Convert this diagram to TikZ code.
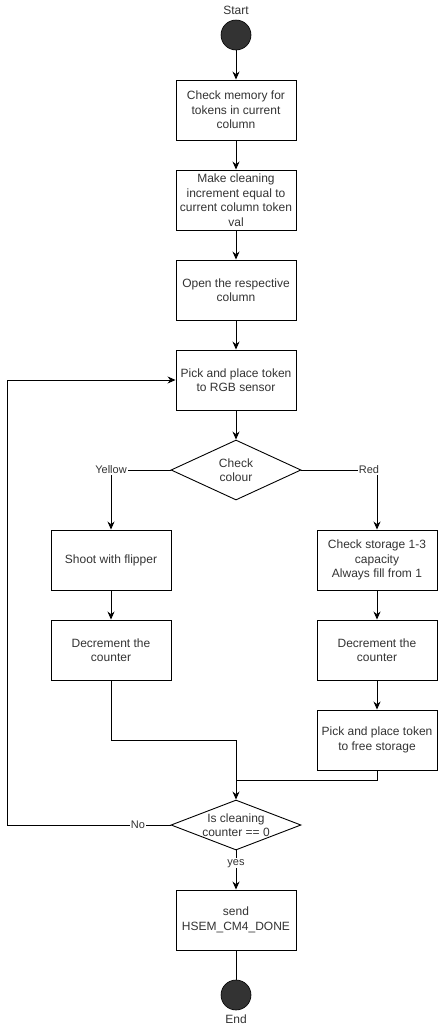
\documentclass[tikz,border=0pt]{standalone}
\usepackage{fontspec}
\setmainfont{Liberation Sans}
\usetikzlibrary{shapes.geometric,arrows.meta}
\definecolor{txt}{HTML}{333333}
\begin{document}
\begin{tikzpicture}[x=1pt,y=-1pt,
  every node/.style={text=txt,font=\fontsize{12}{14.5}\selectfont},
  proc/.style={draw=black,line width=0.9pt,minimum width=120pt,minimum height=60pt,align=center,inner sep=1pt},
  dec/.style={draw=black,line width=0.9pt,diamond,aspect=2.17,minimum width=130pt,minimum height=60pt,align=center,inner sep=0pt},
  term/.style={circle,fill=txt,draw=black,line width=0.6pt,minimum size=30pt,inner sep=0pt},
  lab/.style={fill=white,inner sep=1pt,font=\fontsize{11}{13}\selectfont},
  conn/.style={line width=0.9pt,-{Stealth[length=8pt,width=7pt]}},
  plain/.style={line width=0.9pt}]
\useasboundingbox (0,0) rectangle (438,1031);
\node (st) [term] at (236,35) {};
\node (stl) at (236,10) {Start};
\node (b1) [proc] at (236,110) {Check memory for\\tokens in current\\column};
\node (b2) [proc] at (236,200) {Make cleaning\\increment equal to\\current column token\\val};
\node (b3) [proc] at (236,290) {Open the respective\\column};
\node (b4) [proc] at (236,380) {Pick and place token\\to RGB sensor};
\node (d1) [dec] at (236,470) {Check\\colour};
\node (y1) [proc] at (111,560) {Shoot with flipper};
\node (y2) [proc] at (111,650) {Decrement the\\counter};
\node (r1) [proc] at (377,560) {Check storage 1-3\\capacity\\Always fill from 1};
\node (r2) [proc] at (377,650) {Decrement the\\counter};
\node (r3) [proc] at (377,740) {Pick and place token\\to free storage};
\node (d2) [dec,minimum height=50pt,aspect=2.6] at (236,825) {Is cleaning\\counter == 0};
\node (b5) [proc] at (236,920) {send\\HSEM\_CM4\_DONE};
\node (en) [term] at (236,995) {};
\node (enl) at (236,1019) {End};
\coordinate (jl) at (236,740);
\coordinate (jr) at (236,780);
\coordinate (lp) at (7,825);
\draw[conn] (st) -- (b1);
\draw[conn] (b1) -- (b2);
\draw[conn] (b2) -- (b3);
\draw[conn] (b3) -- (b4);
\draw[conn] (b4) -- (d1);
\draw[conn] (d1.west) -| node[lab,pos=0.5] {Yellow} (y1.north);
\draw[conn] (d1.east) -| node[lab,pos=0.447] {Red} (r1.north);
\draw[conn] (y1) -- (y2);
\draw[conn] (r1) -- (r2);
\draw[conn] (r2) -- (r3);
\draw[plain] (y2.south) |- (jl);
\draw[plain] (r3.south) |- (jr);
\draw[conn] (jl) -- (d2.north);
\draw[conn] (d2.west) -- node[lab,pos=0.2] {No} (lp) |- (b4.west);
\draw[conn] (d2.south) -- node[lab,pos=0.33] {yes} (b5.north);
\draw[plain] (b5) -- (en);
\end{tikzpicture}
\end{document}
